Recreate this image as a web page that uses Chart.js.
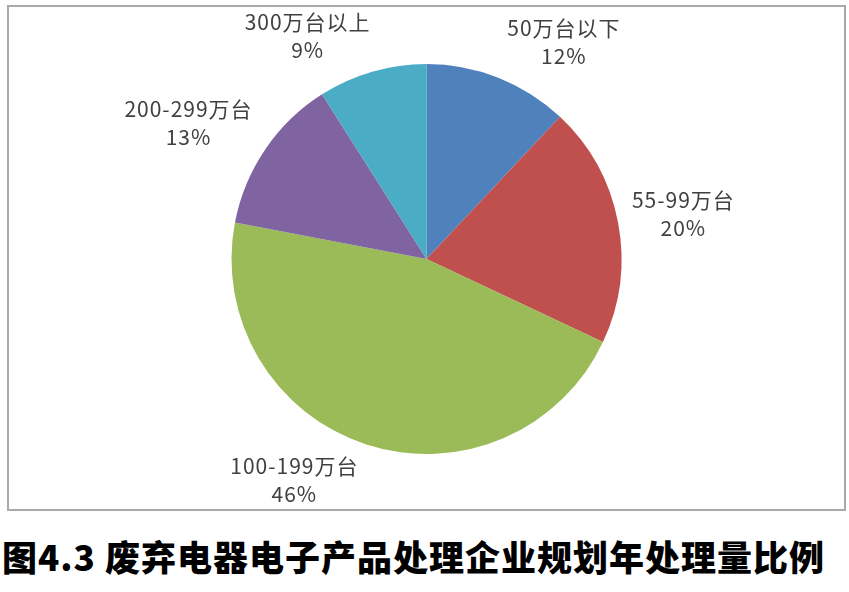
<!DOCTYPE html>
<html><head><meta charset="utf-8">
<script src="https://cdn.jsdelivr.net/npm/chart.js@4.4.1/dist/chart.umd.min.js"></script>
<style>
html,body{margin:0;padding:0;background:#fff;}
#box{position:absolute;left:7px;top:5px;width:835px;height:502px;border:2px solid #a9a9a9;box-sizing:content-box;}
#c{position:absolute;left:0;top:0;}
#title{position:absolute;left:0;top:532px;width:849px;text-align:left;padding-left:2px;font-family:"Noto Sans CJK SC","Noto Sans CJK JP",sans-serif;font-weight:900;font-size:35px;color:#000;letter-spacing:1px;white-space:nowrap;line-height:48px;}
</style></head>
<body>
<div id="box"><canvas id="c" width="835" height="502"></canvas></div>
<div id="title">图4.3 废弃电器电子产品处理企业规划年处理量比例</div>
<script>
const categories = ["50万台以下", "55-99万台", "100-199万台", "200-299万台", "300万台以上"];
const shares = [12, 20, 46, 13, 9];
const colors = ["#4F81BD", "#C0504D", "#9BBB59", "#8064A2", "#4BACC6"];

const labelPlugin = {
  id: 'outsideLabels',
  afterDatasetsDraw(chart) {
    const ctx = chart.ctx;
    const meta = chart.getDatasetMeta(0);
    const fs = 21, lh = 28, gap = 8, pushX = 6;
    ctx.save();
    ctx.font = fs + 'px "Noto Sans CJK SC", "Noto Sans", sans-serif';
    ctx.letterSpacing = '1px';
    ctx.fillStyle = '#404040';
    ctx.textAlign = 'center';
    ctx.textBaseline = 'middle';
    meta.data.forEach((arc, i) => {
      const mid = (arc.startAngle + arc.endAngle) / 2;
      const dx = Math.cos(mid), dy = Math.sin(mid);
      const r = arc.outerRadius + gap;
      const px = arc.x + dx * r, py = arc.y + dy * r;
      const l1 = categories[i], l2 = shares[i] + '%';
      const w = Math.max(ctx.measureText(l1).width, ctx.measureText(l2).width);
      const h = lh * 2;
      const ax = Math.max(-1, Math.min(1, dx * 3.2));
      const ay = Math.max(-1, Math.min(1, dy * 1.4));
      const cx = px + ax * w / 2 + Math.sign(dx) * pushX;
      const cy = py + ay * h / 2;
      ctx.fillText(l1, cx, cy - lh / 2);
      ctx.fillText(l2, cx, cy + lh / 2);
    });
    ctx.restore();
  }
};

new Chart(document.getElementById('c'), {
  type: 'pie',
  data: {
    labels: categories,
    datasets: [{ data: shares, backgroundColor: colors, borderWidth: 0 }]
  },
  options: {
    responsive: false,
    animation: false,
    layout: { padding: { top: 57, bottom: 55, left: 0, right: 0 } },
    plugins: { legend: { display: false }, tooltip: { enabled: false } }
  },
  plugins: [labelPlugin]
});
</script>
</body></html>
